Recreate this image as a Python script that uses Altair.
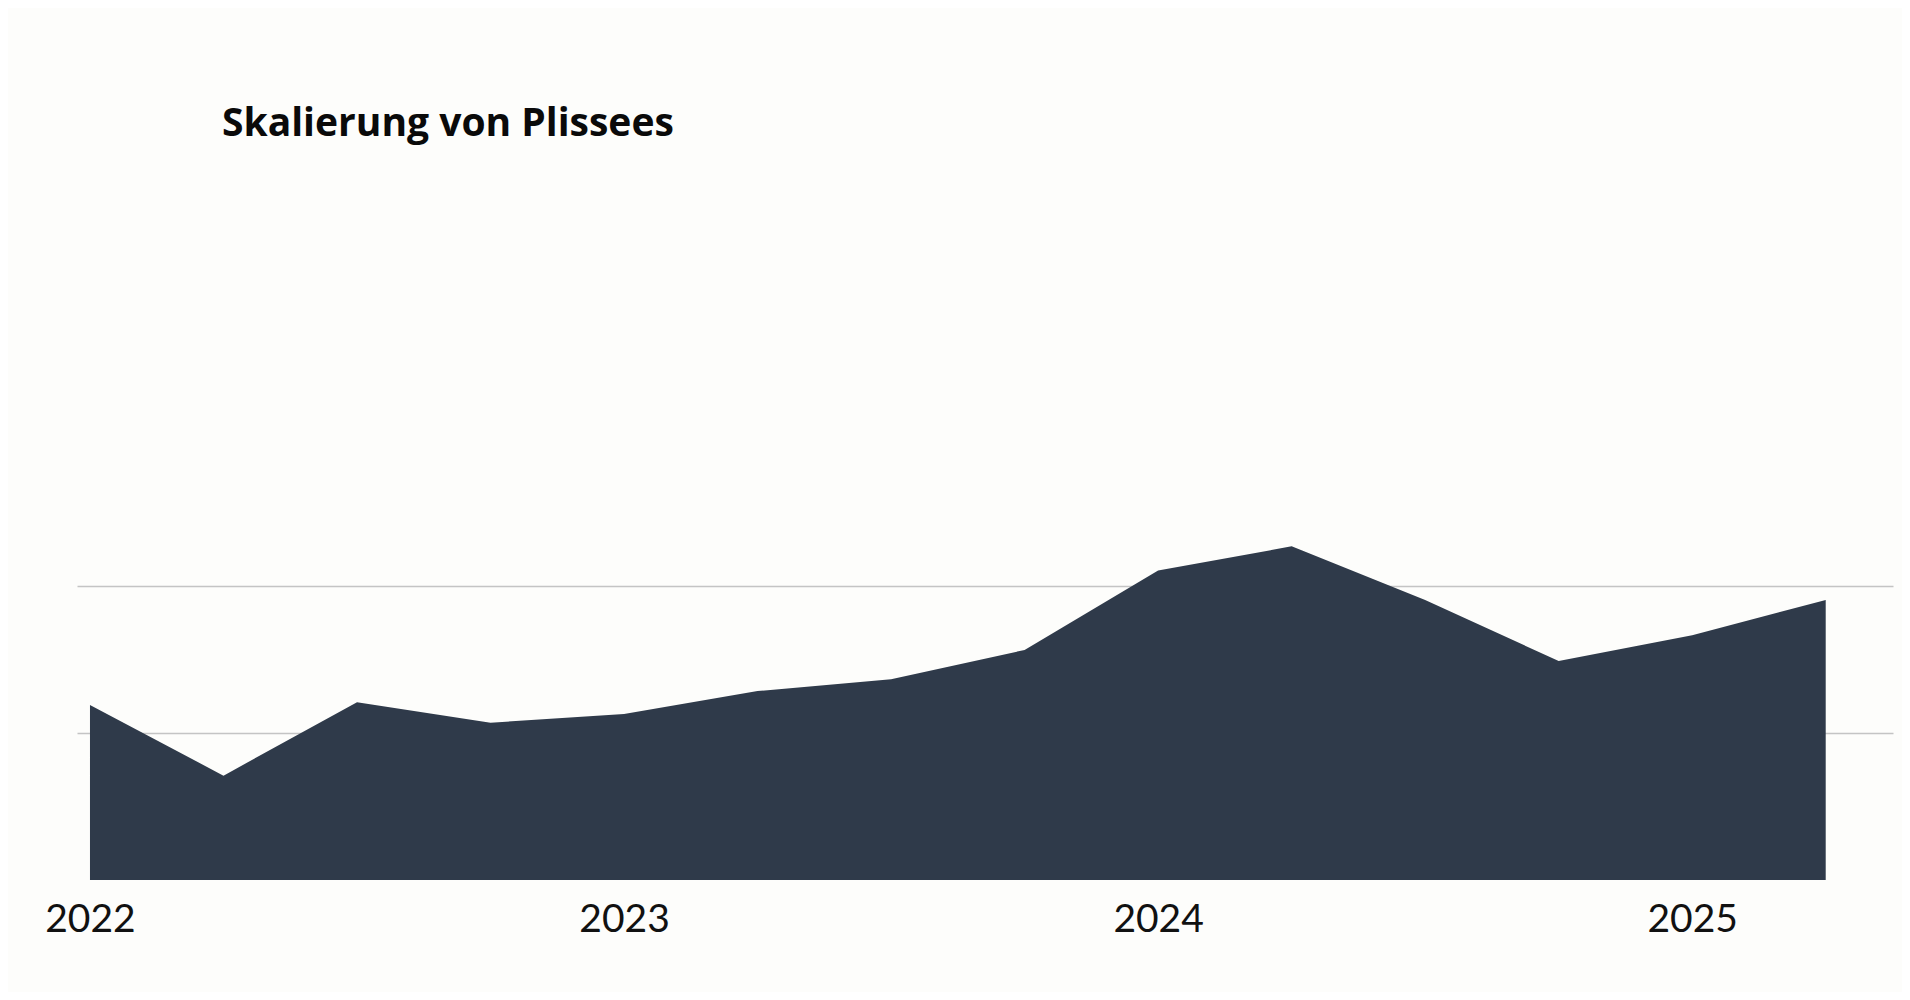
import altair as alt
import pandas as pd

# Quarterly positions (year fractions) and values
periods = [2022.00, 2022.25, 2022.50, 2022.75,
           2023.00, 2023.25, 2023.50, 2023.75,
           2024.00, 2024.25, 2024.50, 2024.75,
           2025.00, 2025.25]
values = [1.19, 0.71, 1.21, 1.07,
          1.13, 1.285, 1.365, 1.565,
          2.105, 2.27, 1.905, 1.49,
          1.665, 1.905]
year_ticks = [2022, 2023, 2024, 2025]
grid_values = [1, 2]

df = pd.DataFrame({"t": periods, "v": values})

BG = "#fdfdfb"

chart = (
    alt.Chart(df)
    .mark_area(color="#2f3a4a", opacity=1, interpolate="linear")
    .encode(
        x=alt.X(
            "t:Q",
            scale=alt.Scale(domain=[2021.9757, 2025.376], nice=False, zero=False),
            axis=alt.Axis(
                values=year_ticks,
                format="d",
                title=None,
                grid=False,
                domain=False,
                ticks=False,
                labelFont="Lato",
                labelFontSize=39,
                labelColor="#111111",
                labelPadding=20,
                labelFlush=False,
                labelOverlap=False,
            ),
        ),
        y=alt.Y(
            "v:Q",
            scale=alt.Scale(domain=[0, 4], nice=False),
            axis=alt.Axis(
                values=grid_values,
                title=None,
                labels=False,
                ticks=False,
                domain=False,
                grid=True,
                gridColor="#c4c4c4",
                gridWidth=1.7,
            ),
        ),
    )
    .properties(
        width=1816,
        height=588,
        autosize=alt.AutoSizeParams(type="none"),
        padding={"left": 69, "top": 284, "right": 9, "bottom": 112},
        background=BG,
        title=alt.TitleParams(
            "Skalierung von Plissees",
            anchor="start",
            frame="group",
            font="Open Sans",
            fontSize=39,
            fontWeight="bold",
            color="#0a0a0a",
            dx=145,
            offset=117,
            baseline="alphabetic",
        ),
    )
    .configure_view(stroke=None)
)

chart.save("out.html", embed_options={"renderer": "svg", "actions": False})
